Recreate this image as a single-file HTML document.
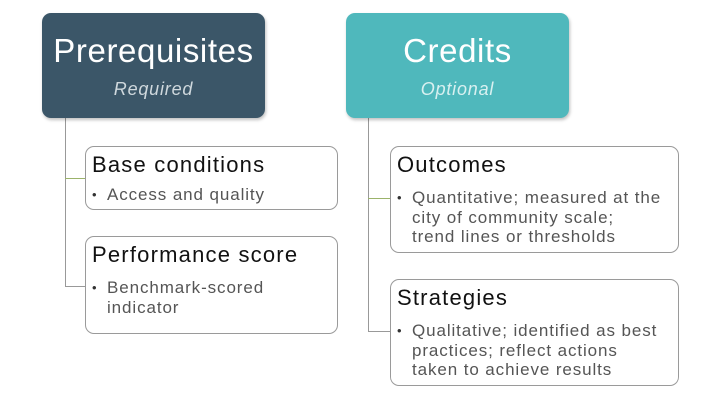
<!DOCTYPE html>
<html><head><style>
body{margin:0;width:720px;height:405px;background:#fff;position:relative;overflow:hidden;font-family:"Liberation Sans",sans-serif}
.h{position:absolute;border-radius:9px;color:#fff;text-align:center;box-shadow:1px 2px 3px rgba(0,0,0,.25)}
.h .t{font-size:33px;margin-top:20px;line-height:36px;letter-spacing:0.6px}
.h .s{font-size:18px;font-style:italic;margin-top:10px;color:#cfd8dd;letter-spacing:0.8px}
.b{position:absolute;border:1px solid #9a9a9a;border-radius:9px;background:#fff}
.b .t{font-size:22px;color:#111;margin:5px 0 0 6px;line-height:26px;letter-spacing:1.2px}
.b .l{font-size:17px;color:#555;margin:10px 0 0 6px;line-height:19.5px;padding-left:15px;position:relative;letter-spacing:0.9px;white-space:nowrap}
.b .l:before{content:"•";position:absolute;left:0;font-size:13px;color:#333}
.v{position:absolute;width:1px;background:#999}
.g{position:absolute;height:1px}
</style></head><body>
<div class="v" style="left:65px;top:118px;height:169px"></div>
<div class="g" style="left:65px;top:178px;width:20px;background:#9bb36a"></div>
<div class="g" style="left:65px;top:286px;width:20px;background:#999"></div>
<div class="v" style="left:368px;top:118px;height:214px"></div>
<div class="g" style="left:368px;top:198px;width:22px;background:#9bb36a"></div>
<div class="g" style="left:368px;top:331px;width:22px;background:#999"></div>

<div class="h" style="left:42px;top:13px;width:223px;height:105px;background:#3b5668"><div class="t">Prerequisites</div><div class="s">Required</div></div>
<div class="h" style="left:346px;top:13px;width:223px;height:105px;background:#4fb8bc"><div class="t">Credits</div><div class="s" style="color:#d8f0f0">Optional</div></div>

<div class="b" style="left:85px;top:146px;width:251px;height:62px"><div class="t">Base conditions</div><div class="l" style="margin-top:7px">Access and quality</div></div>
<div class="b" style="left:85px;top:236px;width:251px;height:96px"><div class="t">Performance score</div><div class="l">Benchmark-scored<br>indicator</div></div>
<div class="b" style="left:390px;top:146px;width:287px;height:105px"><div class="t">Outcomes</div><div class="l">Quantitative; measured at the<br>city of community scale;<br>trend lines or thresholds</div></div>
<div class="b" style="left:390px;top:279px;width:287px;height:105px"><div class="t">Strategies</div><div class="l">Qualitative; identified as best<br>practices; reflect actions<br>taken to achieve results</div></div>
</body></html>
